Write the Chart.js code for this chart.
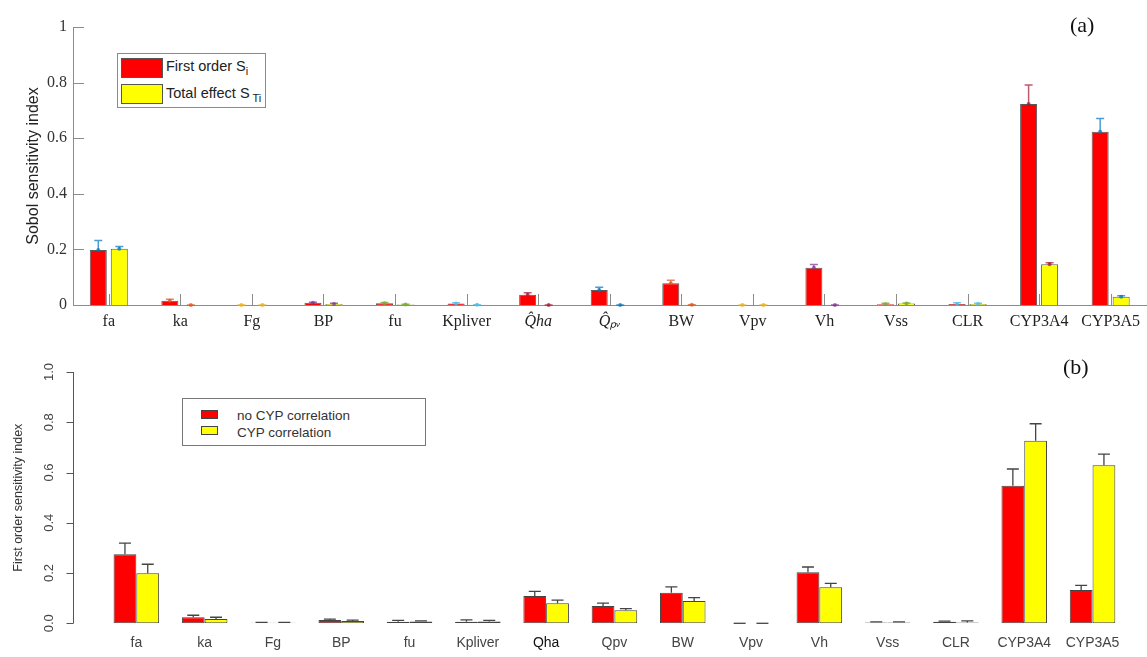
<!DOCTYPE html>
<html>
<head>
<meta charset="utf-8">
<script src="https://cdn.jsdelivr.net/npm/chart.js"></script>
<style>
  body { margin: 0; background: #fff; }
  #page { position: relative; width: 1147px; height: 657px; overflow: hidden; background: #fff; }
  canvas { position: absolute; left: 0; }
  .legend { position: absolute; background: #fff; }
  .legend .sw { position: absolute; box-sizing: border-box; }
  .legend .txt { position: absolute; white-space: nowrap; line-height: 1; }
  .panel { position: absolute; font-family: "Liberation Serif", serif; font-size: 22px; line-height: 1; color: #111; }
</style>
</head>
<body>
<div id="page">
  <canvas id="chartA" width="1147" height="330" style="top:0"></canvas>
  <canvas id="chartB" width="1147" height="327" style="top:330px"></canvas>

  <div class="panel" style="left:1070px; top:14px">(a)</div>
  <div class="panel" style="left:1063px; top:356px">(b)</div>

  <!-- legend (a) -->
  <div class="legend" style="left:117px; top:53px; width:149px; height:55px; border:1px solid #8a8a8a; box-sizing:border-box;">
    <div class="sw" style="left:3px; top:4px; width:42px; height:20px; background:#ff0000; border:1px solid #555;"></div>
    <div class="sw" style="left:3px; top:30px; width:42px; height:20px; background:#ffff00; border:1px solid #555;"></div>
    <div class="txt" style="left:48px; top:4px; font:14.5px 'Liberation Sans', Arial, sans-serif; color:#222;">First order S<sub style="font-size:11px">i</sub></div>
    <div class="txt" style="left:48px; top:31px; font:14.5px 'Liberation Sans', Arial, sans-serif; color:#222;">Total effect S<sub style="font-size:11px"> Ti</sub></div>
  </div>

  <!-- legend (b) -->
  <div class="legend" style="left:182px; top:398px; width:244px; height:48px; border:1px solid #777; box-sizing:border-box;">
    <div class="sw" style="left:18px; top:11px; width:17px; height:9px; background:#ff0000; border:1px solid #444;"></div>
    <div class="sw" style="left:18px; top:27px; width:17px; height:9px; background:#ffff00; border:1px solid #444;"></div>
    <div class="txt" style="left:54px; top:9px; font:13.5px 'Liberation Sans', Arial, sans-serif; color:#333;">no CYP correlation</div>
    <div class="txt" style="left:54px; top:26px; font:13.5px 'Liberation Sans', Arial, sans-serif; color:#333;">CYP correlation</div>
  </div>
</div>

<script>
// (a) Sobol indices, MATLAB style
const categoriesA = ['fa', 'ka', 'Fg', 'BP', 'fu', 'Kpliver', 'Q\u0302ha', 'Q\u0302\u209a\u1d65', 'BW', 'Vpv', 'Vh', 'Vss', 'CLR', 'CYP3A4', 'CYP3A5'];
const firstOrderA      = [0.198, 0.015, 0.000, 0.008, 0.006, 0.005, 0.037, 0.054, 0.078, 0.000, 0.134, 0.003, 0.004, 0.723, 0.623];
const firstOrderAUpper = [0.232, 0.021, 0.000, 0.010, 0.009, 0.008, 0.044, 0.064, 0.089, 0.000, 0.146, 0.006, 0.008, 0.791, 0.671];
const totalEffectA      = [0.202, 0.000, 0.000, 0.004, 0.002, 0.001, 0.000, 0.000, 0.001, 0.000, 0.000, 0.005, 0.004, 0.147, 0.030];
const totalEffectAUpper = [0.210, 0.000, 0.000, 0.006, 0.003, 0.001, 0.000, 0.000, 0.001, 0.000, 0.000, 0.007, 0.006, 0.152, 0.033];

// (b) first order index with / without CYP correlation, R style
const categoriesB = ['fa', 'ka', 'Fg', 'BP', 'fu', 'Kpliver', 'Qha', 'Qpv', 'BW', 'Vpv', 'Vh', 'Vss', 'CLR', 'CYP3A4', 'CYP3A5'];
const noCorrB      = [0.275, 0.024, 0.002, 0.013, 0.006, 0.006, 0.109, 0.069, 0.122, 0.000, 0.203, 0.003, 0.006, 0.547, 0.133];
const noCorrBUpper = [0.319, 0.032, 0.004, 0.017, 0.012, 0.014, 0.127, 0.080, 0.145, 0.000, 0.224, 0.006, 0.009, 0.614, 0.151];
const corrB      = [0.199, 0.017, 0.002, 0.009, 0.007, 0.007, 0.080, 0.052, 0.089, 0.000, 0.143, 0.003, 0.003, 0.726, 0.629];
const corrBUpper = [0.235, 0.024, 0.004, 0.013, 0.010, 0.012, 0.092, 0.058, 0.102, 0.000, 0.159, 0.006, 0.010, 0.794, 0.673];

const yTicksA = [0, 0.2, 0.4, 0.6, 0.8, 1];
const yTicksB = [0, 0.2, 0.4, 0.6, 0.8, 1];

// matlab default colour order, used for the error bars of (a)
const errColors = ['rgba(0,114,189,0.7)', 'rgba(217,83,25,0.7)', 'rgba(237,177,32,0.8)', 'rgba(126,47,142,0.7)',
                   'rgba(119,172,48,0.8)', 'rgba(77,190,238,0.8)', 'rgba(162,20,47,0.7)'];

const SERIF = "'Liberation Serif', 'Times New Roman', serif";
const SANS = "'Liberation Sans', Arial, sans-serif";

// error bars: line from bar top up to upper value, with a cap
const errorBars = {
  id: 'errorBars',
  afterDatasetsDraw(chart, args, opts) {
    const { ctx, scales: { y } } = chart;
    chart.data.datasets.forEach((ds, i) => {
      const meta = chart.getDatasetMeta(i);
      meta.data.forEach((bar, j) => {
        const top = y.getPixelForValue(ds.upper[j]);
        const color = opts.colors ? opts.colors[j % opts.colors.length] : opts.color;
        ctx.save();
        ctx.strokeStyle = color;
        ctx.lineWidth = opts.width;
        ctx.beginPath();
        ctx.moveTo(bar.x, bar.y);
        ctx.lineTo(bar.x, top);
        ctx.moveTo(bar.x - opts.cap, top);
        ctx.lineTo(bar.x + opts.cap, top);
        ctx.stroke();
        if (opts.dot) {
          ctx.fillStyle = color;
          ctx.beginPath();
          ctx.arc(bar.x, bar.y, opts.dot, 0, Math.PI * 2);
          ctx.fill();
        }
        ctx.restore();
      });
    });
  }
};

// matlab inward tick marks
const inwardTicks = {
  id: 'inwardTicks',
  beforeDatasetsDraw(chart, args, opts) {
    const { ctx, chartArea, scales: { x } } = chart;
    ctx.save();
    ctx.strokeStyle = opts.color;
    ctx.lineWidth = 1;
    ctx.beginPath();
    x.ticks.forEach((t, i) => {
      const px = Math.round(x.getPixelForValue(i)) + 0.5;
      ctx.moveTo(px, chartArea.bottom);
      ctx.lineTo(px, chartArea.bottom - opts.len);
    });
    ctx.stroke();
    ctx.restore();
  },
  afterDraw(chart, args, opts) {
    const { ctx, chartArea, scales: { y } } = chart;
    ctx.save();
    ctx.strokeStyle = opts.color;
    ctx.lineWidth = 1;
    ctx.beginPath();
    y.ticks.forEach(t => {
      const py = Math.round(y.getPixelForValue(t.value)) + 0.5;
      ctx.moveTo(chartArea.left, py);
      ctx.lineTo(chartArea.left + opts.len, py);
    });
    ctx.stroke();
    ctx.restore();
  }
};

// R style y axis, detached from the plot region
const rAxis = {
  id: 'rAxis',
  afterDraw(chart, args, opts) {
    const { ctx, scales: { y } } = chart;
    const ax = Math.round(chart.chartArea.left - opts.gap) + 0.5;
    ctx.save();
    ctx.strokeStyle = opts.color;
    ctx.lineWidth = 1;
    ctx.beginPath();
    ctx.moveTo(ax, y.getPixelForValue(y.min));
    ctx.lineTo(ax, y.getPixelForValue(y.max));
    y.ticks.forEach(t => {
      const py = Math.round(y.getPixelForValue(t.value)) + 0.5;
      ctx.moveTo(ax, py);
      ctx.lineTo(ax - opts.len, py);
    });
    ctx.stroke();
    ctx.restore();
  }
};

// ---- chart (a)
new Chart(document.getElementById('chartA'), {
  type: 'bar',
  data: {
    labels: categoriesA,
    datasets: [
      { label: 'First order Si', data: firstOrderA, upper: firstOrderAUpper,
        backgroundColor: '#ff0000', borderColor: '#5a5a5a', borderWidth: 1 },
      { label: 'Total effect STi', data: totalEffectA, upper: totalEffectAUpper,
        backgroundColor: '#ffff00', borderColor: '#5a5a5a', borderWidth: 1 }
    ]
  },
  options: {
    responsive: false,
    animation: false,
    layout: { padding: { top: 27, right: 0, bottom: 0, left: 0 } },
    datasets: { bar: { categoryPercentage: 0.587, barPercentage: 0.81 } },
    plugins: {
      legend: { display: false },
      tooltip: { enabled: false },
      errorBars: { colors: errColors, width: 1.5, cap: 4, dot: 2 },
      inwardTicks: { color: '#8c8c8c', len: 11 }
    },
    scales: {
      x: {
        grid: { display: false, drawTicks: false },
        border: { display: true, color: '#8c8c8c' },
        ticks: {
          autoSkip: false, maxRotation: 0, padding: 7, color: '#222',
          font: (c) => ({ family: SERIF, size: 16, style: (c.index === 6 || c.index === 7) ? 'italic' : 'normal' })
        },
        afterFit: (s) => { s.height = 25; }
      },
      y: {
        min: 0, max: 1,
        afterBuildTicks: (s) => { s.ticks = yTicksA.map(v => ({ value: v })); },
        grid: { display: false, drawTicks: false },
        border: { display: true, color: '#8c8c8c' },
        ticks: {
          padding: 6, color: '#333', font: { family: SERIF, size: 16 },
          callback: (v) => (v === 0 || v === 1) ? String(v) : v.toFixed(1)
        },
        title: { display: true, text: 'Sobol sensitivity index', color: '#222',
                 font: { family: SANS, size: 16 }, padding: { top: 24, bottom: 0 } },
        afterFit: (s) => { s.width = 73; }
      }
    }
  },
  plugins: [errorBars, inwardTicks]
});

// ---- chart (b)
new Chart(document.getElementById('chartB'), {
  type: 'bar',
  data: {
    labels: categoriesB,
    datasets: [
      { label: 'no CYP correlation', data: noCorrB, upper: noCorrBUpper,
        backgroundColor: '#ff0000', borderColor: '#444', borderWidth: 1, borderSkipped: false },
      { label: 'CYP correlation', data: corrB, upper: corrBUpper,
        backgroundColor: '#ffff00', borderColor: '#444', borderWidth: 1, borderSkipped: false }
    ]
  },
  options: {
    responsive: false,
    animation: false,
    layout: { padding: { top: 42, right: 20.3, bottom: 0, left: 0 } },
    datasets: { bar: { categoryPercentage: 0.667, barPercentage: 1.0 } },
    plugins: {
      legend: { display: false },
      tooltip: { enabled: false },
      errorBars: { color: '#444', width: 1.3, cap: 6, dot: 0 },
      rAxis: { color: '#555', gap: 29, len: 7 }
    },
    scales: {
      x: {
        grid: { display: false, drawTicks: false },
        border: { display: false },
        ticks: {
          autoSkip: false, maxRotation: 0, padding: 11,
          color: (c) => c.index === 6 ? '#111' : '#444',
          font: { family: SANS, size: 14 }
        },
        afterFit: (s) => { s.height = 33.7; }
      },
      y: {
        min: 0, max: 1,
        afterBuildTicks: (s) => { s.ticks = yTicksB.map(v => ({ value: v })); },
        grid: { display: false, drawTicks: false },
        border: { display: false },
        ticks: {
          minRotation: 90, maxRotation: 90, crossAlign: 'center', padding: 44,
          color: '#444', font: { family: SANS, size: 13 },
          callback: (v) => v.toFixed(1)
        },
        title: { display: true, text: 'First order sensitivity index', color: '#333',
                 font: { family: SANS, size: 12.5 }, padding: { top: 11.5, bottom: 0 } },
        afterFit: (s) => { s.width = 102.2; s.paddingTop = 0; s.paddingBottom = 0; }
      }
    }
  },
  plugins: [errorBars, rAxis]
});
</script>
</body>
</html>
